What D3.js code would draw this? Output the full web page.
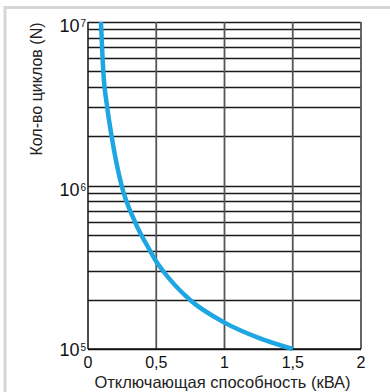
<!DOCTYPE html>
<html>
<head>
<meta charset="utf-8">
<script src="https://cdn.jsdelivr.net/npm/d3@7"></script>
<style>
  body { margin: 0; background: #fff; }
  svg { display: block; font-family: "Liberation Sans", Arial, sans-serif; }
</style>
</head>
<body>
<svg id="chart" width="390" height="392"></svg>
<script>
// values
const capacity = [0.095, 0.112, 0.141, 0.173, 0.246, 0.344, 0.454, 0.5, 0.55, 0.746, 1.0, 1.25, 1.5]
const cycles = [1e7, 5e6, 3e6, 2e6, 1e6, 6e5, 4e5, 3.43e5, 3e5, 2e5, 1.45e5, 1.17e5, 1e5]
const xTicks = [0, 0.5, 1, 1.5, 2]
const xTickLabels = ["0", "0,5", "1", "1,5", "2"]
const yDecades = [5, 6, 7]

const margin = {top: 22, right: 29, bottom: 43, left: 88}
const width = 390 - margin.left - margin.right
const height = 392 - margin.top - margin.bottom

const svg = d3.select("#chart")

// light frame at top and left
svg.append("path")
  .attr("d", "M5,392 V7.5 H390")
  .attr("fill", "none")
  .attr("stroke", "#d6d6d6")
  .attr("stroke-width", 3)

const g = svg.append("g")
  .attr("transform", `translate(${margin.left},${margin.top})`)

const x = d3.scaleLinear().domain([0, 2]).range([0, width])
const y = d3.scaleLog().domain([1e5, 1e7]).range([height, 0])

// horizontal grid: every 1..9 within decades
let hLines = []
for (let e = 5; e < 7; e++) {
  for (let m = 1; m <= 9; m++) hLines.push(m * Math.pow(10, e))
}
hLines.push(1e7)

g.selectAll(".hgrid")
  .data(hLines)
  .enter().append("line")
    .attr("x1", 0)
    .attr("x2", width)
    .attr("y1", d => Math.round(y(d)) + 0.5)
    .attr("y2", d => Math.round(y(d)) + 0.5)
    .attr("stroke", "#1a1a1a")
    .attr("stroke-width", 1.3)

g.selectAll(".vgrid")
  .data(xTicks)
  .enter().append("line")
    .attr("x1", d => x(d))
    .attr("x2", d => x(d))
    .attr("y1", 0)
    .attr("y2", height)
    .attr("stroke", d => d === 0 ? "#111" : "#555")
    .attr("stroke-width", d => d === 0 ? 1.5 : 1.8)

g.append("line")
  .attr("x1", 0).attr("x2", width)
  .attr("y1", height).attr("y2", height)
  .attr("stroke", "#111")
  .attr("stroke-width", 1.5)

// x tick labels
g.selectAll(".xlab")
  .data(xTicks)
  .enter().append("text")
    .attr("x", d => x(d))
    .attr("y", height + 19)
    .attr("text-anchor", "middle")
    .style("font-size", "16px")
    .attr("fill", "#111")
    .text((d, i) => xTickLabels[i])

// y decade labels
const ylab = g.selectAll(".ylab")
  .data(yDecades)
  .enter().append("text")
    .attr("x", -2)
    .attr("y", d => Math.min(y(Math.pow(10, d)) + 10, height + 7))
    .attr("text-anchor", "end")
    .attr("fill", "#111")
    .style("font-size", "18px")
ylab.append("tspan").text("10")
ylab.append("tspan")
  .attr("dy", -5)
  .attr("dx", 1)
  .style("font-size", "10px")
  .text(d => d)

// curve
const line = d3.line()
  .x((d, i) => x(capacity[i]))
  .y(d => y(d))
  .curve(d3.curveMonotoneX)

g.append("path")
  .datum(cycles)
  .attr("fill", "none")
  .attr("stroke", "#1ea6e3")
  .attr("stroke-width", 4.5)
  .attr("stroke-linecap", "butt")
  .attr("d", line)

// axis titles
svg.append("text")
  .attr("x", margin.left + width / 2 - 2)
  .attr("y", 388)
  .attr("text-anchor", "middle")
  .style("font-size", "16.5px")
  .attr("fill", "#222")
  .text("Отключающая способность (кВА)")

svg.append("text")
  .attr("transform", `translate(42,89) rotate(-90)`)
  .attr("text-anchor", "middle")
  .style("font-size", "16px")
  .attr("fill", "#222")
  .text("Кол-во циклов (N)")
</script>
</body>
</html>
